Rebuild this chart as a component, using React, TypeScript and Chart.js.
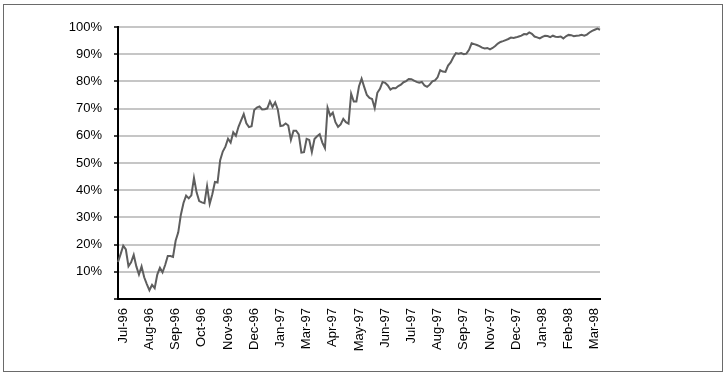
import { useEffect, useRef } from "react";
import { Chart, registerables } from "chart.js";

Chart.register(...registerables);

const monthLabels = [
  "Jul-96", "Aug-96", "Sep-96", "Oct-96", "Nov-96", "Dec-96", "Jan-97",
  "Mar-97", "Apr-97", "May-97", "Jun-97", "Jul-97", "Aug-97", "Sep-97",
  "Nov-97", "Dec-97", "Jan-98", "Feb-98", "Mar-98",
];

const labelStart = 2;
const labelEvery = 10;

const values = [
  13.6, 16.5, 19.6, 18.2, 12.0, 13.5, 16.2, 12.0, 9.0, 12.0,
  8.0, 5.5, 3.2, 5.2, 4.0, 9.0, 11.5, 9.8, 12.5, 15.8,
  15.8, 15.5, 21.4, 24.5, 31.0, 35.3, 38.0, 37.0, 38.1, 44.5,
  39.2, 36.0, 35.5, 35.2, 41.5, 35.0, 38.5, 43.0, 42.8, 51.0,
  54.2, 56.0, 58.9, 57.5, 61.3, 60.0, 63.3, 65.7, 68.0, 64.6,
  63.2, 63.5, 69.5, 70.4, 70.8, 69.7, 69.8, 70.1, 72.7, 70.6,
  72.3, 69.7, 63.6, 63.8, 64.5, 63.8, 58.5, 61.9, 61.9, 60.5,
  53.8, 54.0, 58.9, 58.5, 54.0, 58.8, 59.8, 60.6, 57.5, 55.5,
  70.3, 67.4, 68.5, 65.0, 63.3, 64.2, 66.2, 65.0, 64.5, 75.5,
  72.6, 72.6, 78.2, 81.0, 77.9, 75.0, 73.9, 73.5, 70.2, 75.8,
  77.3, 79.8, 79.5, 78.5, 77.0, 77.6, 77.5, 78.3, 78.8, 79.7,
  80.1, 80.9, 80.8, 80.3, 79.8, 79.5, 79.8, 78.5, 78.0, 78.8,
  80.0, 80.4, 81.5, 84.1, 83.6, 83.5, 85.8, 87.0, 88.9, 90.4,
  90.2, 90.4, 90.0, 90.2, 91.6, 94.0, 93.7, 93.4, 93.0, 92.4,
  92.1, 92.3, 91.8, 92.3, 93.0, 93.9, 94.5, 94.8, 95.2, 95.6,
  96.1, 96.0, 96.2, 96.5, 96.8, 97.4, 97.3, 98.0, 97.5, 96.5,
  96.2, 95.8, 96.4, 96.8, 96.7, 96.3, 96.8, 96.4, 96.3, 96.5,
  95.8, 96.6, 97.1, 97.0, 96.6, 96.8, 96.9, 97.1, 96.8, 97.2,
  98.0, 98.6, 99.0, 99.4, 99.0,
];

const yMin = 0;
const yMax = 100;
const yStep = 10;

export default function App() {
  const canvasRef = useRef<HTMLCanvasElement | null>(null);

  useEffect(() => {
    const canvas = canvasRef.current;
    if (!canvas) return;
    const labels = values.map((_, i) => {
      const k = i - labelStart;
      if (k >= 0 && k % labelEvery === 0) {
        return monthLabels[k / labelEvery] ?? "";
      }
      return "";
    });
    const font = { family: "'Liberation Sans', Arial, Helvetica, sans-serif", size: 13 };
    const chart = new Chart(canvas, {
      type: "line",
      data: {
        labels,
        datasets: [
          {
            data: values,
            borderColor: "#5e5e5e",
            borderWidth: 2,
            pointRadius: 0,
            tension: 0,
            fill: false,
          },
        ],
      },
      options: {
        animation: false,
        responsive: false,
        events: [],
        layout: { padding: { top: 27, right: 126, left: 0, bottom: 0 } },
        plugins: { legend: { display: false }, tooltip: { enabled: false } },
        scales: {
          x: {
            type: "category",
            offset: false,
            grid: { display: false, drawTicks: false },
            border: { display: true, color: "#000", width: 2 },
            ticks: {
              autoSkip: false,
              maxRotation: 90,
              minRotation: 90,
              padding: 9,
              color: "#000",
              font,
            },
            afterFit: (s: any) => {
              s.height = 75;
            },
          },
          y: {
            min: yMin,
            max: yMax,
            grid: {
              color: (ctx: any) => (ctx.tick && ctx.tick.value === 0 ? "#000" : "#c6c6c6"),
              lineWidth: 2,
              drawTicks: true,
              tickLength: 4,
              tickColor: "#000",
              tickWidth: 1.5,
            },
            border: { display: true, color: "#000", width: 2 },
            ticks: {
              stepSize: yStep,
              padding: 12,
              color: "#000",
              font,
              callback: (v: any) => (Number(v) === 0 ? "" : `${v}%`),
            },
            afterFit: (s: any) => {
              s.width = 118;
            },
          },
        },
      },
    });
    return () => chart.destroy();
  }, []);

  return (
    <div
      style={{
        position: "fixed",
        left: 0,
        top: 0,
        width: 726,
        height: 374,
        background: "#fff",
        overflow: "hidden",
      }}
    >
      <canvas
        ref={canvasRef}
        width={726}
        height={374}
        style={{ position: "absolute", left: 0, top: 0, width: 726, height: 374 }}
      />
      <div
        style={{
          position: "absolute",
          left: 3,
          top: 4,
          width: 720,
          height: 368,
          border: "1.5px solid #6a6a6a",
          boxSizing: "border-box",
          pointerEvents: "none",
        }}
      />
    </div>
  );
}
